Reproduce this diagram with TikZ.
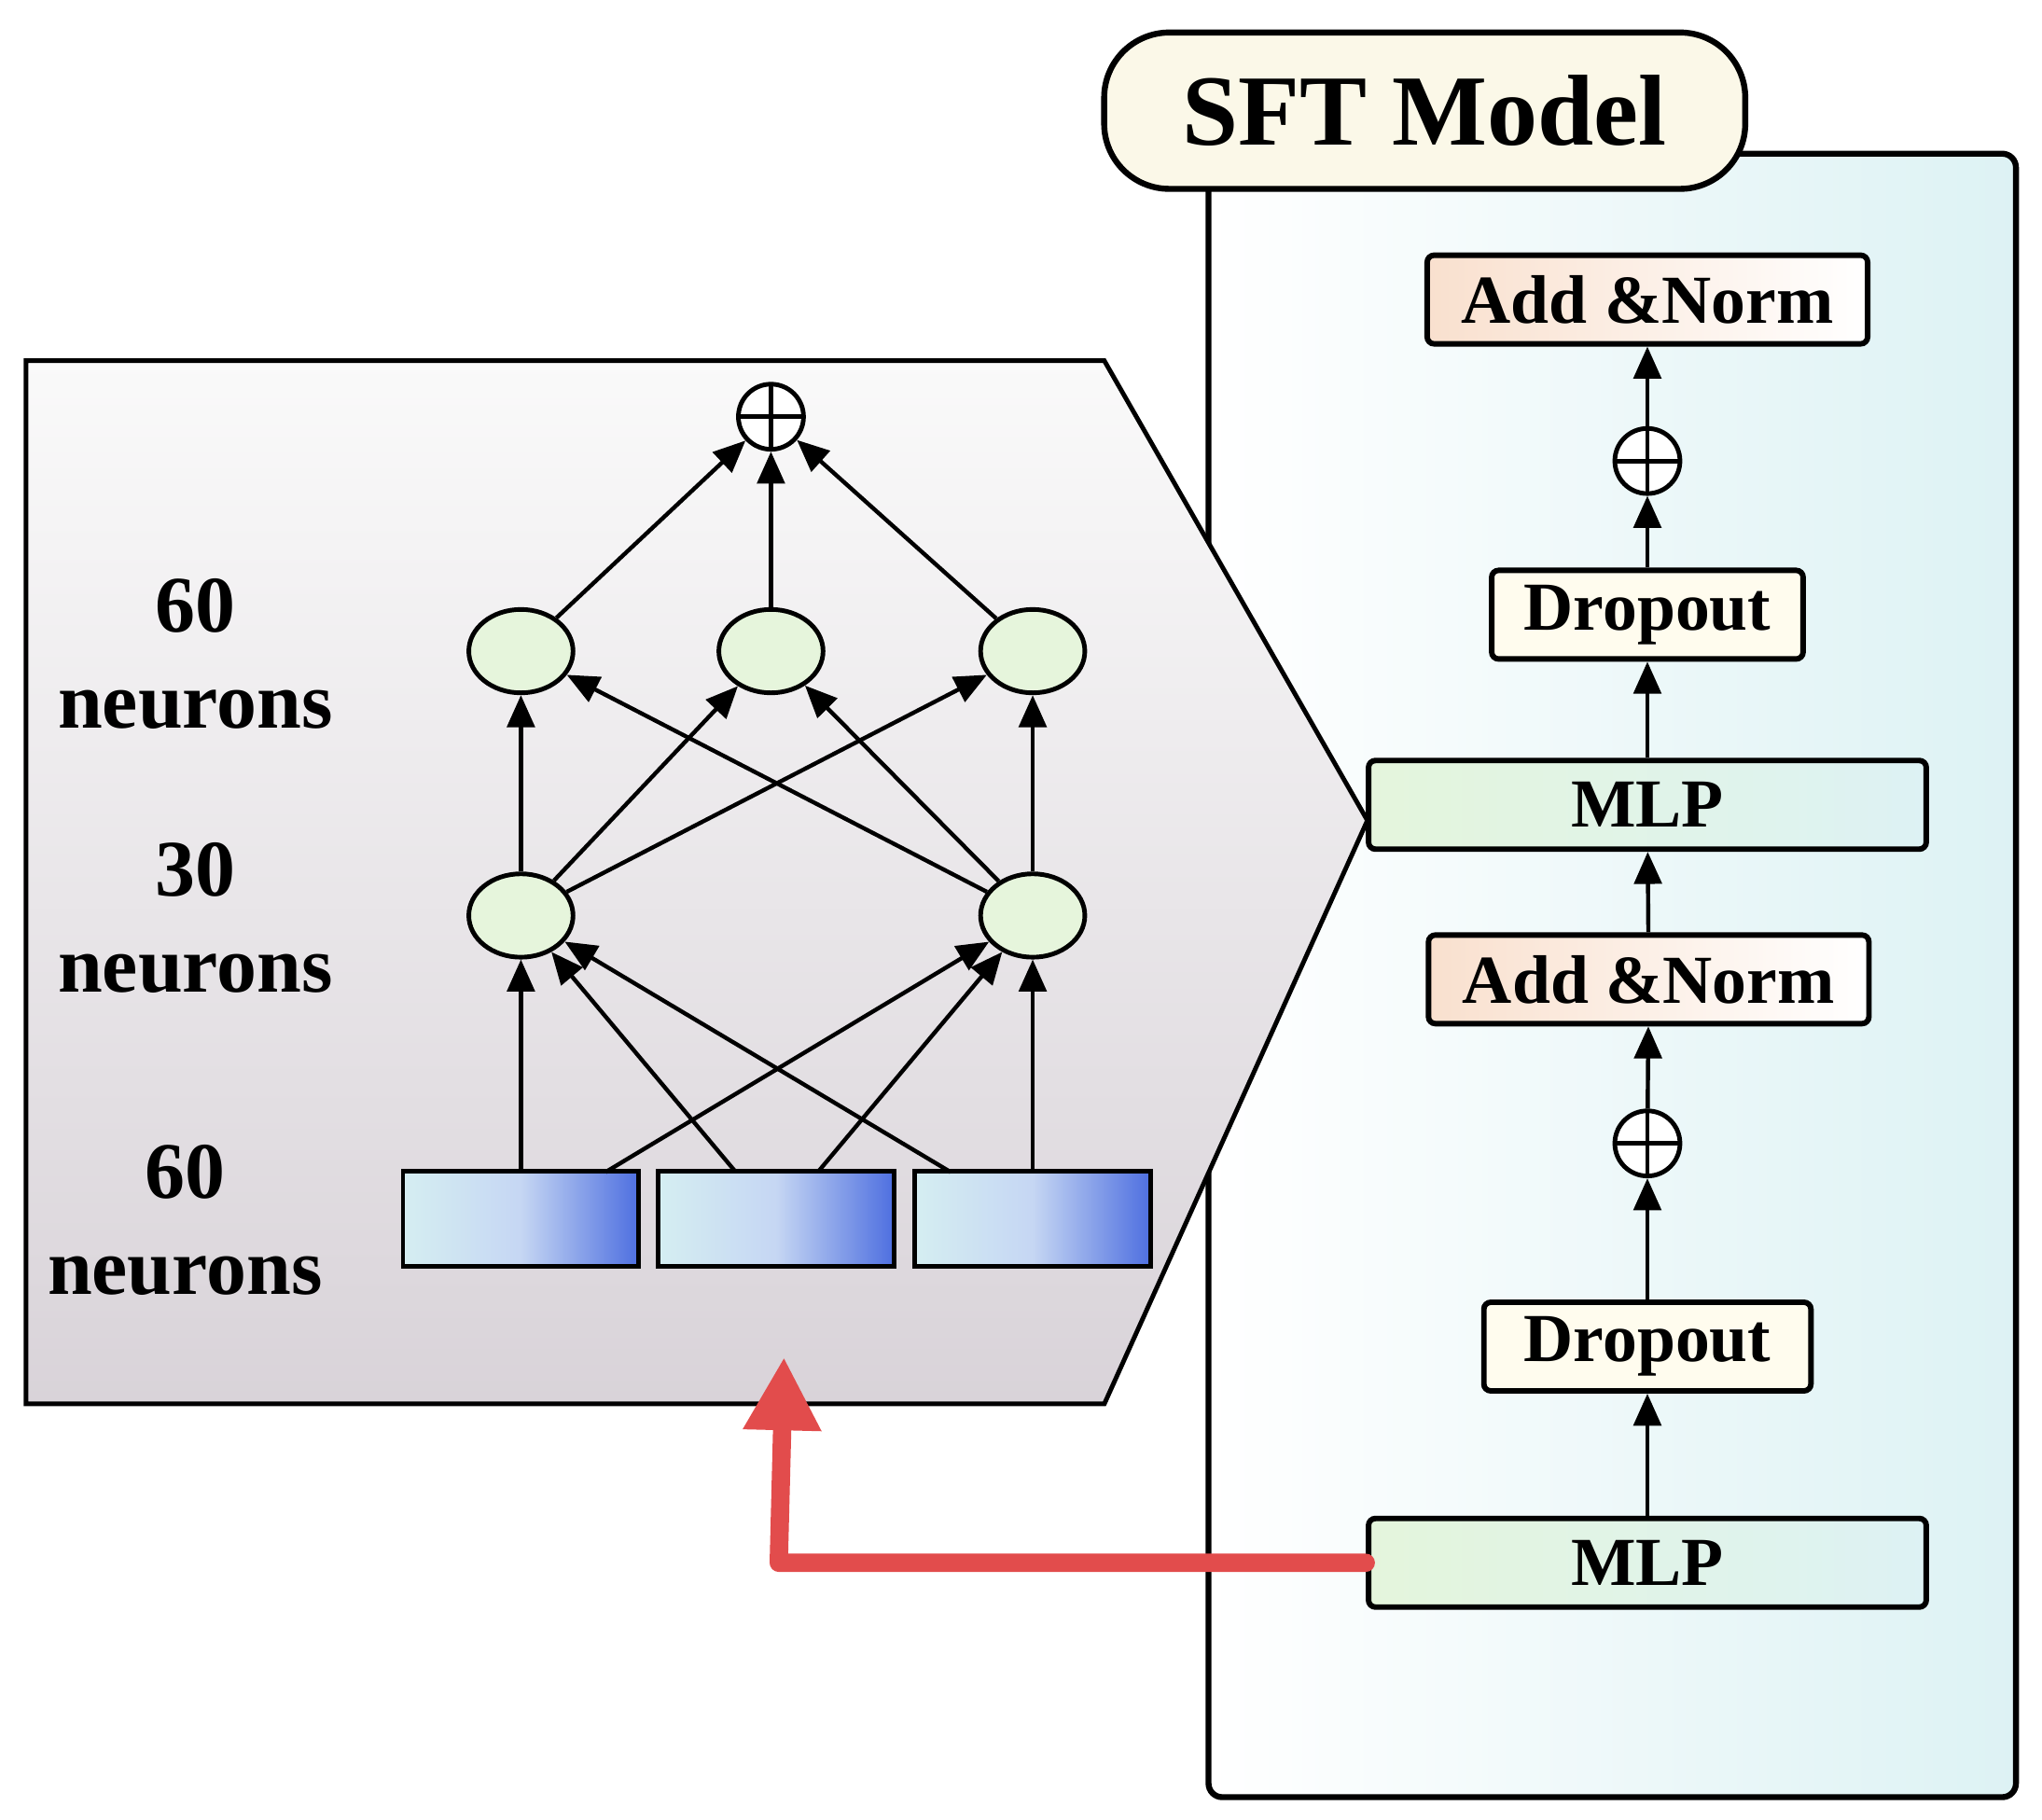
\documentclass[tikz,border=0pt]{standalone}
\usepackage{fontspec}
\setmainfont{Liberation Serif}
\usetikzlibrary{arrows.meta,shapes.geometric}
\definecolor{pan}{HTML}{DDF2F4}
\definecolor{ttl}{HTML}{FBF8E8}
\definecolor{an}{HTML}{F9E0CE}
\definecolor{dr}{HTML}{FFFCEE}
\definecolor{mg}{HTML}{E4F5DC}
\definecolor{nd}{HTML}{E6F5DC}
\definecolor{rb}{HTML}{4E6FE0}
\definecolor{rl}{HTML}{D5EEF2}
\definecolor{red}{HTML}{E24C4C}
\begin{document}
\begin{tikzpicture}[x=0.01cm,y=-0.01cm,
 box/.style={draw,line width=1.2pt,rounded corners=1.5pt,minimum height=0.68cm,font=\fontsize{15}{17}\selectfont\bfseries,inner sep=0pt},
 op/.style={draw,circle,line width=1pt,minimum size=0.5cm,inner sep=0pt,fill=white,path picture={\draw[line width=1pt] (path picture bounding box.north)--(path picture bounding box.south) (path picture bounding box.west)--(path picture bounding box.east);}},
 nu/.style={draw,ellipse,line width=1pt,fill=nd,minimum width=0.8cm,minimum height=0.64cm,inner sep=0pt},
 rc/.style={draw,line width=1pt,minimum width=1.81cm,minimum height=0.73cm,left color=rl,right color=rb,middle color=rl!60!rb!60,inner sep=0pt},
 ar/.style={line width=0.9pt,-{Triangle[length=7pt,width=6pt]}},
 lb/.style={align=center,font=\fontsize{17.5}{21}\selectfont\bfseries}]
\useasboundingbox (0,0) rectangle (1568,1397);
% SFT panel
\draw[line width=1.3pt,rounded corners=3pt,left color=white,right color=pan] (928,118) rectangle (1548,1380);
\node[draw,line width=1.3pt,rounded corners=0.5cm,fill=ttl,minimum width=4.92cm,minimum height=1.2cm,font=\fontsize{22}{26}\selectfont\bfseries] (t) at (1094,85) {SFT Model};
\node[box,minimum width=3.38cm,left color=an,right color=white] (an1) at (1265,230) {Add \&Norm};
\node[op] (o1) at (1265,354) {};
\node[box,minimum width=2.39cm,fill=dr] (d1) at (1265,472) {Dropout};
\node[box,minimum width=4.28cm,left color=mg,right color=pan] (m1) at (1265,618) {MLP};
\node[box,minimum width=3.38cm,left color=an,right color=white] (an2) at (1266,752) {Add \&Norm};
\node[op] (o2) at (1265,878) {};
\node[box,minimum width=2.51cm,fill=dr] (d2) at (1265,1034) {Dropout};
\node[box,minimum width=4.28cm,left color=mg,right color=pan] (m2) at (1265,1200) {MLP};
\draw[ar] (m2)--(d2); \draw[ar] (d2)--(o2); \draw[ar] (o2)--(an2); \draw[ar] (an2)--(m1);
\draw[ar] (m1)--(d1); \draw[ar] (d1)--(o1); \draw[ar] (o1)--(an1);
% left panel
\draw[line width=1pt,top color=white!96!gray,bottom color=violet!15!gray!30] (20,277)--(848,277)--(1050,630)--(848,1078)--(20,1078)--cycle;
\node[op] (s) at (592,320) {};
\node[nu] (a1) at (400,500) {}; \node[nu] (a2) at (592,500) {}; \node[nu] (a3) at (793,500) {};
\node[nu] (b1) at (400,703) {}; \node[nu] (b2) at (793,703) {};
\node[rc] (r1) at (400,936) {}; \node[rc] (r2) at (596,936) {}; \node[rc] (r3) at (793,936) {};
\coordinate (p1) at (400,900); \coordinate (p2) at (465,900); \coordinate (p3) at (565,900);
\coordinate (p4) at (628,900); \coordinate (p5) at (730,900); \coordinate (p6) at (793,900);
\draw[ar] (p1)--(b1); \draw[ar] (p2)--(b2); \draw[ar] (p3)--(b1);
\draw[ar] (p4)--(b2); \draw[ar] (p5)--(b1); \draw[ar] (p6)--(b2);
\foreach \u in {b1,b2}{\foreach \v in {a1,a2,a3}{\draw[ar] (\u)--(\v);}}
\draw[ar] (a1)--(s); \draw[ar] (a2)--(s); \draw[ar] (a3)--(s);
\node[lb] (l1) at (150,502) {60\\neurons};
\node[lb] (l2) at (150,705) {30\\neurons};
\node[lb] (l3) at (142,937) {60\\neurons};
% red arrow
\coordinate (rt) at (602,1042);
\draw[red,line width=4pt,line cap=round,line join=round,-{Triangle[length=16pt,width=16pt]}] (m2.west)--(598,1200)--(rt);
\end{tikzpicture}
\end{document}
